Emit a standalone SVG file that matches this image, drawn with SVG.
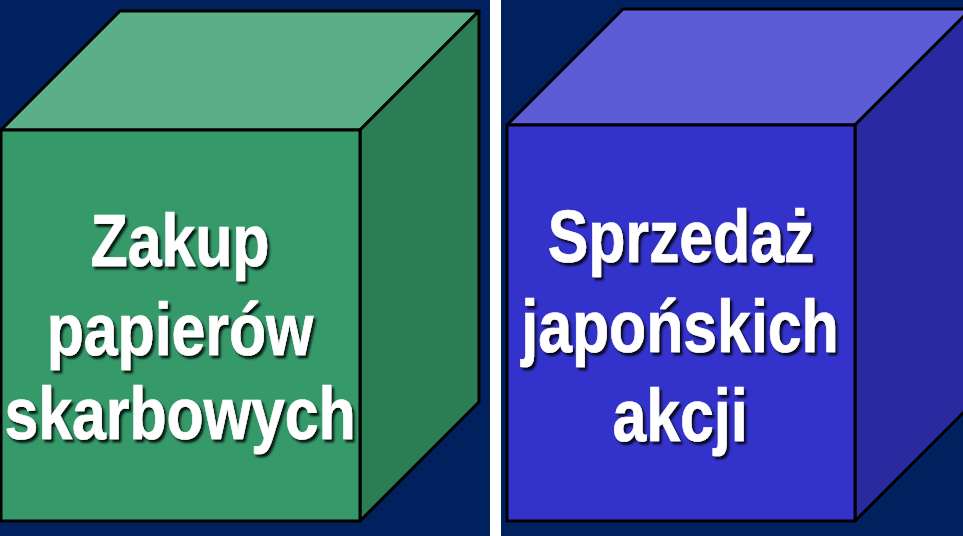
<svg xmlns="http://www.w3.org/2000/svg" width="963" height="536" viewBox="0 0 963 536">
<defs>
<style>
.edge{stroke:#000;stroke-width:3;stroke-linejoin:round}
.lbl{font-family:"Liberation Sans",Arial,sans-serif;font-weight:bold;font-size:75px;fill:#fff;stroke:#fff;stroke-width:0.7;text-anchor:middle;filter:url(#sh)}
</style>
<filter id="sh" x="-10%" y="-20%" width="120%" height="150%">
<feDropShadow dx="3" dy="3" stdDeviation="1.2" flood-color="#000" flood-opacity="0.85"/>
</filter>
</defs>
<rect x="0" y="0" width="963" height="536" fill="#00205E"/>
<rect x="490" y="0" width="11" height="536" fill="#fff"/>
<g id="cube-zakup">
<polygon class="edge" points="1,130 120,11 479,11 360,130" fill="#5BAF87"/>
<polygon class="edge" points="360,130 479,11 479,402 360,521" fill="#2B7D53"/>
<rect class="edge" x="1" y="130" width="359" height="391" fill="#35996A"/>
<text class="lbl" transform="translate(180,266) scale(0.81,1)">Zakup</text>
<text class="lbl" transform="translate(180,355) scale(0.81,1)">papierów</text>
<text class="lbl" transform="translate(180,439) scale(0.81,1)">skarbowych</text>
</g>
<g id="cube-sprzedaz">
<polygon class="edge" points="507,125 623,9 971,9 855,125" fill="#5C5CD6"/>
<polygon class="edge" points="855,125 971,9 971,405 855,521" fill="#2A2AA0"/>
<rect class="edge" x="507" y="125" width="348" height="396" fill="#3333CC"/>
<text class="lbl" transform="translate(681,262) scale(0.81,1)">Sprzedaż</text>
<text class="lbl" transform="translate(680,352) scale(0.81,1)">japońskich</text>
<text class="lbl" transform="translate(680,441) scale(0.81,1)">akcji</text>
</g>
<g id="connectors"/>
</svg>
